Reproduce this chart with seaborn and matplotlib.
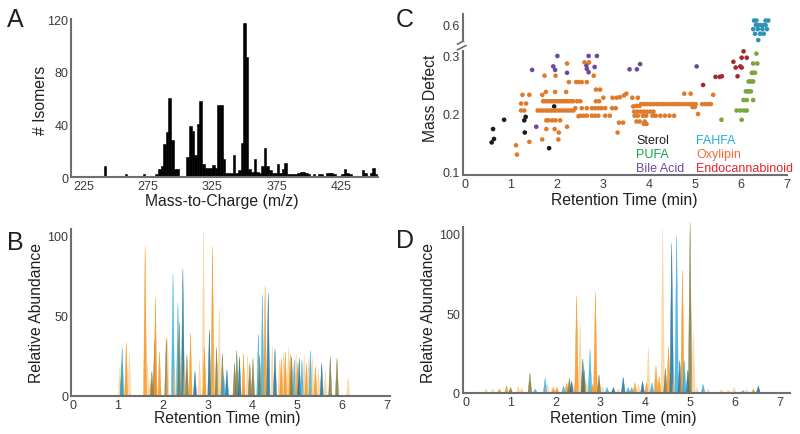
import pandas as pd
import matplotlib
matplotlib.use('Agg')
import matplotlib.pyplot as plt
import seaborn as sns

sns.set_style('white')
plt.rcParams['font.family'] = ['Liberation Sans', 'DejaVu Sans']

# ---------------- data ----------------
# A: isomer counts per 2-unit m/z bin (bin centres)
mz_bins = [242, 258, 272, 282, 284, 286, 288, 290, 292, 294, 296, 298,
           306, 308, 310, 312, 314, 316, 318, 320, 322, 324, 326, 328, 330, 332, 334,
           336, 338, 340, 342, 344, 346, 348, 350, 352, 354, 356, 358, 360, 362, 364,
           366, 368, 370, 372, 374, 376, 378, 380, 382, 384, 386, 388, 390, 392, 394,
           396, 398, 400, 402, 404, 406, 408, 410, 412, 414, 416, 418, 420, 422, 424,
           426, 428, 430, 432, 434, 436, 438, 440, 442, 444, 446, 448, 450, 452]
isomer_counts = [8, 2, 2, 2, 6, 8, 25, 34, 60, 28, 6, 6,
                 15, 39, 35, 17, 40, 58, 10, 7, 7, 7, 9, 7, 55, 55, 14,
                 3, 3, 3, 17, 3, 5, 26, 117, 91, 6, 4, 14, 4, 3, 8,
                 22, 8, 5, 3, 3, 10, 3, 6, 11, 2, 2, 2, 2, 3, 4,
                 4, 3, 2, 1, 2, 1, 2, 2, 1, 3, 3, 3, 2, 1, 1,
                 2, 6, 3, 2, 1, 1, 1, 1, 5, 3, 1, 3, 7, 2]

# C: retention time (min) / mass defect per lipid class
sterol_rt = [0.58, 0.61, 0.63, 0.85, 1.29, 1.30, 1.32, 1.83, 1.94]
sterol_md = [0.151, 0.174, 0.157, 0.190, 0.189, 0.168, 0.195, 0.141, 0.213]

bile_rt = [1.46, 1.55, 1.92, 1.96, 2.01, 2.22, 2.64, 2.65, 2.69, 2.69, 2.82, 2.87,
           3.58, 3.74, 3.81, 5.04]
bile_md = [0.276, 0.178, 0.282, 0.276, 0.300, 0.271, 0.284, 0.278, 0.272, 0.300,
           0.281, 0.300, 0.277, 0.277, 0.286, 0.282]

fahfa_rt = [6.29, 6.34, 6.54, 6.60, 6.33, 6.38, 6.43, 6.49, 6.54,
            6.27, 6.37, 6.47, 6.57, 6.31, 6.42, 6.50, 6.38]
fahfa_md = [0.606, 0.606, 0.606, 0.606, 0.598, 0.598, 0.598, 0.598, 0.598,
            0.591, 0.591, 0.591, 0.591, 0.583, 0.583, 0.583, 0.572]

endo_rt = [6.06, 6.02, 6.13, 5.84, 5.99, 5.89, 6.02, 5.93, 5.45, 5.54, 5.59, 5.18]
endo_md = [0.308, 0.297, 0.297, 0.290, 0.282, 0.280, 0.280, 0.265, 0.264, 0.264,
           0.265, 0.250]

pufa_rt = [6.34, 6.27, 6.36, 6.24, 6.27, 6.31, 6.17, 6.20, 6.24, 6.27,
           6.11, 6.15, 6.18, 6.22, 6.06, 6.13, 6.27, 5.91, 5.99, 6.07, 6.13, 5.58, 6.02]
pufa_md = [0.304, 0.287, 0.287, 0.271, 0.271, 0.271, 0.256, 0.256, 0.256, 0.256,
           0.239, 0.239, 0.239, 0.239, 0.224, 0.224, 0.224, 0.206, 0.206, 0.206, 0.206,
           0.190, 0.190]

oxy_rt = ([1.70, 1.75, 1.80, 1.85, 1.90, 1.95, 2.00, 2.05, 2.10, 2.15, 2.20, 2.25, 2.30, 2.35]
          + [1.58, 1.64, 1.70, 1.76, 1.82, 1.88, 1.94, 2.00, 2.06, 2.12, 2.18, 2.24, 2.30, 2.36]
          + [1.77, 1.82, 1.90, 1.97, 2.07]
          + [1.11, 1.13, 1.22, 1.33, 1.22, 1.29, 1.25, 1.40, 1.40, 1.68, 1.76, 1.96, 2.20,
             1.73, 1.97, 2.22, 2.26, 2.42, 1.77, 1.95, 2.04, 1.68, 2.03, 2.22, 2.47, 2.44]
          + [2.60, 2.70, 2.47, 2.54, 2.65, 2.80, 2.85, 2.94, 3.01, 2.51, 2.85, 2.92, 3.21,
             3.30, 3.37, 3.46, 3.51, 3.64, 3.76, 3.66, 3.73, 3.80, 4.77, 4.91]
          + [2.40, 2.54, 2.65, 2.76, 2.83, 2.90, 2.97, 3.05, 3.20, 3.28]
          + [3.83, 3.90, 3.97, 4.04, 4.11, 4.18, 4.25, 4.32, 4.39, 4.46, 4.53, 4.60, 4.67,
             4.74, 4.81, 4.88, 4.95, 5.02, 5.16, 5.23, 5.30, 5.35]
          + [4.95, 5.00]
          + [3.68, 3.75, 3.82, 3.89, 3.96, 4.03, 4.10]
          + [2.51, 2.58, 2.65, 2.76, 2.83, 2.90, 3.05, 3.15, 3.69, 3.76, 3.87, 3.94, 4.08,
             4.15, 4.25, 4.35, 4.45, 4.55]
          + [3.73, 3.80, 3.91]
          + [3.35, 3.44, 3.32, 3.89, 3.95, 5.40, 5.07])
oxy_md = ([0.222] * 14 + [0.206] * 14 + [0.189] * 5
          + [0.146, 0.130, 0.218, 0.218, 0.206, 0.206, 0.233, 0.233, 0.152, 0.233, 0.238,
             0.238, 0.238, 0.266, 0.266, 0.287, 0.255, 0.255, 0.174, 0.174, 0.168, 0.156,
             0.156, 0.178, 0.196, 0.222]
          + [0.289, 0.289, 0.255, 0.255, 0.255, 0.266, 0.242, 0.242, 0.228, 0.222, 0.222,
             0.222, 0.228, 0.228, 0.229, 0.232, 0.235, 0.228, 0.228, 0.213, 0.214, 0.214,
             0.235, 0.235]
          + [0.210] * 10 + [0.217] * 22 + [0.212] * 2 + [0.204] * 7 + [0.197] * 18
          + [0.187] * 3
          + [0.185, 0.185, 0.168, 0.183, 0.183, 0.233, 0.200])

# B: chromatogram peaks (retention time, relative abundance, colour key)
b_rt = [1.05, 1.09, 1.10, 1.19, 1.26, 1.61, 1.66, 1.72, 1.76, 1.82, 1.84, 1.93,
        2.08, 2.11, 2.23, 2.26, 2.34, 2.37, 2.45, 2.49, 2.54, 2.62, 2.72, 2.82, 2.91,
        2.93, 3.04, 3.11, 3.14, 3.20, 3.26, 3.33, 3.36, 3.43, 3.60, 3.65, 3.71, 3.80,
        3.89, 3.94, 4.01, 4.13, 4.16, 4.22, 4.28, 4.35, 4.44, 4.50, 4.60, 4.64, 4.69,
        4.73, 4.80, 4.84, 4.87, 4.93, 4.97, 5.00, 5.04, 5.10, 5.15, 5.20, 5.25, 5.29,
        5.33, 5.40, 5.47, 5.54, 5.62, 5.73, 5.88, 6.13]
b_abund = [18, 20, 30, 33, 26, 93, 20, 10, 15, 34, 61, 27,
           36, 35, 76, 20, 58, 46, 79, 22, 25, 39, 15, 22, 103,
           30, 41, 93, 25, 30, 54, 26, 12, 16, 20, 28, 24, 26,
           25, 20, 23, 38, 25, 63, 68, 64, 31, 29, 22, 23, 27,
           27, 30, 26, 24, 22, 26, 20, 23, 22, 25, 20, 24, 28,
           24, 18, 16, 20, 15, 24, 23, 11]
b_kind = ['p', 'ol', 'lb', 'o', 'p', 'o', 'p', 'p', 'ol', 'ol', 'o', 'o',
          'ol', 'p', 'lb', 'p', 'lb', 'ol', 'db', 'p', 'ol', 'o', 'db', 'p', 'p',
          'o', 'db', 'o', 'p', 'ol', 'p', 'ol', 'lb', 'db', 'ol', 'ol', 'db', 'o',
          'p', 'ol', 'ol', 'lb', 'ol', 'lb', 'o', 'db', 'p', 'db', 'p', 'o', 'p',
          'o', 'p', 'o', 'ol', 'lb', 'p', 'o', 'db', 'lb', 'p', 'o', 'p', 'lb',
          'p', 'o', 'p', 'db', 'p', 'ol', 'ol', 'p']

# D: chromatogram peaks
d_rt = [0.45, 0.60, 0.75, 0.91, 1.00, 1.17, 1.25, 1.43, 1.55, 1.77, 1.82, 1.95,
        2.03, 2.18, 2.25, 2.31, 2.36, 2.42, 2.47, 2.55, 2.61, 2.64, 2.70, 2.77,
        2.83, 2.89, 2.97, 3.05, 3.15, 3.29, 3.40, 3.51, 3.62, 3.70, 3.77, 3.85,
        3.94, 4.03, 4.07, 4.15, 4.24, 4.31, 4.39, 4.45, 4.52, 4.59, 4.64, 4.70,
        4.77, 4.83, 4.87, 4.95, 5.00, 5.07, 5.15, 5.29, 5.40, 5.70, 5.85, 5.98,
        6.18, 6.26, 6.41, 6.52]
d_abund = [2, 2, 2, 4, 3, 4, 3, 12, 2, 9, 5, 3,
           3, 4, 6, 9, 7, 5, 61, 43, 21, 14, 6, 27,
           5, 63, 11, 4, 3, 3, 2, 9.5, 3, 3, 6, 5,
           7, 6, 28, 6, 17, 10, 103, 15, 29, 94, 12, 99,
           20, 77, 20, 14, 107, 38, 3, 5, 2, 2, 1.5, 3,
           1, 2, 2, 4]
d_kind = ['p', 'p', 'o', 'o', 'ol', 'p', 'p', 'ol', 'lb', 'lb', 'p', 'o',
          'o', 'lb', 'o', 'ol', 'db', 'p', 'o', 'p', 'db', 'ol', 'p', 'lb',
          'o', 'o', 'ol', 'p', 'lb', 'db', 'p', 'db', 'lb', 'lb', 'o', 'p',
          'db', 'o', 'p', 'lb', 'o', 'o', 'p', 'ol', 'o', 'db', 'p', 'lb',
          'db', 'o', 'lb', 'db', 'ol', 'p', 'p', 'lb', 'p', 'p', 'p', 'p',
          'lb', 'p', 'o', 'db']

# ---------------- styles ----------------
spine_col = '#6d6e71'
tick_col = '#3a3a3a'
class_colors = {'Sterol': '#1a1a1a', 'PUFA': '#7aa63c', 'Bile Acid': '#6b4a9b',
                'FAHFA': '#2d93b4', 'Oxylipin': '#e07b2b', 'Endocannabinoid': '#a52a2e'}
legend_colors = {'Sterol': '#231f20', 'PUFA': '#17a34a', 'Bile Acid': '#6c4a9e',
                 'FAHFA': '#27aae1', 'Oxylipin': '#f26c3b', 'Endocannabinoid': '#e8232a'}
peak_colors = {'o': '#f7941d', 'p': '#f6b860', 'lb': '#29abe2', 'db': '#0e6a94', 'ol': '#7a7332'}
peak_alpha = {'o': 0.85, 'p': 0.5, 'lb': 0.8, 'db': 0.8, 'ol': 0.8}


def style_axis(ax):
    sns.despine(ax=ax)
    for s in ['left', 'bottom']:
        ax.spines[s].set_color(spine_col)
        ax.spines[s].set_linewidth(1.5)
    ax.tick_params(length=0, labelsize=9, colors=tick_col, pad=2)


def place_labels(ax, xlab, ylab, xpos, ypos):
    ax.set_xlabel(xlab, fontsize=11.3, color='#231f20')
    ax.set_ylabel(ylab, fontsize=11.3, color='#231f20')
    ax.xaxis.set_label_coords(*xpos)
    ax.yaxis.set_label_coords(*ypos)
    ax.xaxis.label.set_verticalalignment('center')
    ax.yaxis.label.set_verticalalignment('center')


def draw_peaks(ax, times, heights, kinds, hw):
    for t, h, k in zip(times, heights, kinds):
        ax.fill([t - hw, t, t + hw], [0, h, 0], color=peak_colors[k],
                alpha=peak_alpha[k], lw=0.3, clip_on=False)


fig = plt.figure(figsize=(8, 4.35), dpi=100)

# ---- A: histogram of isomers ----
ax_a = fig.add_axes([0.08875, 0.5908, 0.38375, 0.3632])
sns.histplot(x=mz_bins, weights=isomer_counts, binwidth=2, binrange=(215, 455),
             color='black', alpha=1, edgecolor='black', linewidth=0.4, ax=ax_a)
ax_a.set_xlim(215.5, 453.5)
ax_a.set_ylim(0, 120)
ax_a.set_xticks([225, 275, 325, 375, 425])
ax_a.set_yticks([0, 40, 80, 120])
style_axis(ax_a)
place_labels(ax_a, 'Mass-to-Charge (m/z)', '# Isomers', (0.49, -0.15), (-0.10, 0.49))

# ---- C: mass defect scatter with broken axis ----
frames = []
for name, rt, md in [('Sterol', sterol_rt, sterol_md), ('Bile Acid', bile_rt, bile_md),
                     ('Oxylipin', oxy_rt, oxy_md), ('PUFA', pufa_rt, pufa_md),
                     ('Endocannabinoid', endo_rt, endo_md), ('FAHFA', fahfa_rt, fahfa_md)]:
    frames.append(pd.DataFrame({'rt': rt, 'md': md, 'cls': name}))
df_c = pd.concat(frames, ignore_index=True)

ax_lo = fig.add_axes([0.5784, 0.5954, 0.405, 0.2851])
ax_hi = fig.add_axes([0.5784, 0.9034, 0.405, 0.0621])
sns.scatterplot(data=df_c[df_c['cls'] != 'FAHFA'], x='rt', y='md', hue='cls',
                palette=class_colors, s=11, linewidth=0, legend=False, ax=ax_lo, clip_on=False)
sns.scatterplot(data=df_c[df_c['cls'] == 'FAHFA'], x='rt', y='md', hue='cls',
                palette=class_colors, s=11, linewidth=0, legend=False, ax=ax_hi, clip_on=False)
ax_lo.set_xlim(-0.05, 7.0)
ax_lo.set_ylim(0.0948, 0.3086)
ax_lo.set_xticks(range(8))
ax_lo.set_yticks([0.1, 0.2, 0.3])
ax_lo.set_yticklabels(['0.1', '0.2', '0.3'])
style_axis(ax_lo)
place_labels(ax_lo, 'Retention Time (min)', 'Mass Defect', (0.50, -0.20), (-0.10, 0.63))

ax_hi.set_xlim(-0.05, 7.0)
ax_hi.set_ylim(0.5704, 0.6174)
ax_hi.set_yticks([0.6])
ax_hi.set_yticklabels(['0.6'])
ax_hi.set_xticks([])
ax_hi.set_xlabel('')
ax_hi.set_ylabel('')
style_axis(ax_hi)
ax_hi.spines['bottom'].set_visible(False)

# break marks on the y axis
for yc in [43.0, 48.7]:
    ax_lo.plot([457.3 / 800, 466 / 800], [1 - (yc + 2.2) / 435, 1 - (yc - 2.2) / 435],
               transform=fig.transFigure, color=spine_col, lw=1.2, clip_on=False)

for i, (left, right) in enumerate([('Sterol', 'FAHFA'), ('PUFA', 'Oxylipin'),
                                   ('Bile Acid', 'Endocannabinoid')]):
    yy = 0.282 - i * 0.113
    ax_lo.text(0.535, yy, left, color=legend_colors[left], fontsize=9,
               transform=ax_lo.transAxes, va='center')
    ax_lo.text(0.72, yy, right, color=legend_colors[right], fontsize=9,
               transform=ax_lo.transAxes, va='center')

# ---- B: chromatogram ----
ax_b = fig.add_axes([0.08875, 0.0874, 0.39875, 0.3839])
draw_peaks(ax_b, b_rt, b_abund, b_kind, 0.035)
ax_b.set_xlim(-0.04, 7.06)
ax_b.set_ylim(-0.6, 104.2)
ax_b.set_xticks(range(8))
ax_b.set_yticks([0, 50, 100])
style_axis(ax_b)
place_labels(ax_b, 'Retention Time (min)', 'Relative Abundance', (0.49, -0.126), (-0.107, 0.50))

# ---- D: chromatogram ----
ax_d = fig.add_axes([0.5784, 0.0943, 0.40875, 0.3816])
draw_peaks(ax_d, d_rt, d_abund, d_kind, 0.04)
ax_d.set_xlim(-0.067, 7.22)
ax_d.set_ylim(-0.45, 104.4)
ax_d.set_xticks(range(8))
ax_d.set_yticks([0, 50, 100])
style_axis(ax_d)
place_labels(ax_d, 'Retention Time (min)', 'Relative Abundance', (0.49, -0.145), (-0.106, 0.49))

# panel letters
for letter, x, y in [('A', 7, 27), ('C', 396, 27), ('B', 7, 250), ('D', 396, 248)]:
    fig.text(x / 800, 1 - y / 435, letter, fontsize=18, color='#231f20', va='baseline')

fig.savefig('out.png', dpi=100)
